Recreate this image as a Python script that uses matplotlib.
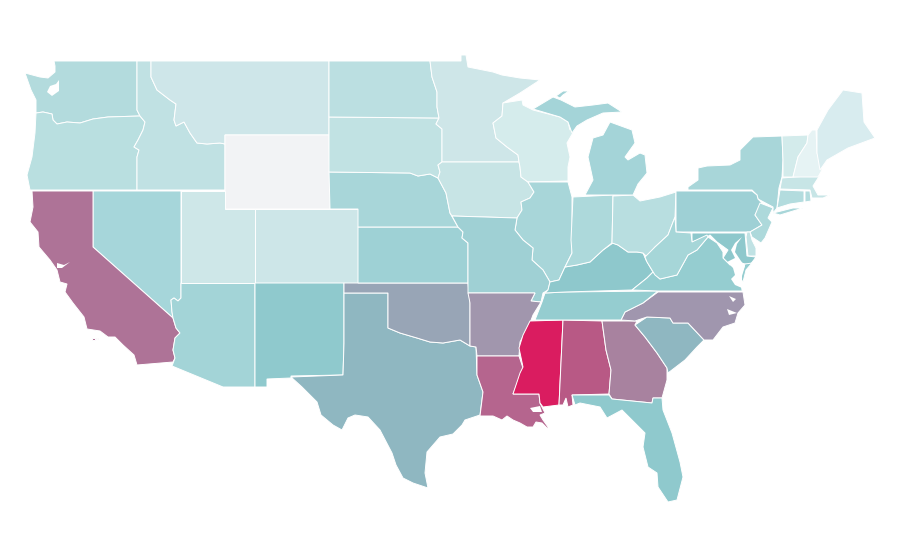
import matplotlib
matplotlib.use("Agg")
import matplotlib.pyplot as plt

# state outlines (x, y in picture pixels)
WA = [(54,61),(137,61),(137,110),(140,116),(108,117),(93,119),(80,123),(67,122),(57,124),(53,120),(52,114),(43,112),(36,113),(36,100),(31,90),(25,73),(40,77),(48,78),(55,72),(55,66)]
OR = [(36,113),(43,112),(52,114),(53,120),(57,124),(67,122),(80,123),(93,119),(108,117),(140,116),(145,122),(143,130),(138,140),(134,147),(139,150),(137,157),(137,190),(30,190),(27,175),(32,157),(35,133)]
ID = [(137,61),(151,61),(151,77),(157,90),(170,100),(176,104),(174,120),(176,126),(184,122),(190,133),(197,143),(207,144),(220,143),(225,144),(225,190),(137,190),(137,157),(139,150),(134,147),(138,140),(143,130),(145,122),(140,116),(137,110)]
MT = [(151,61),(329,61),(329,135),(225,135),(225,144),(220,143),(207,144),(197,143),(190,133),(184,122),(176,126),(174,120),(176,104),(170,100),(157,90),(151,77)]
WY = [(225,135),(329,135),(330,209),(225,209)]
NV = [(93,191),(181,191),(181,298),(178,301),(174,298),(171,300),(172,312),(173,318),(93,247)]
CA = [(32,191),(93,191),(93,247),(173,318),(176,328),(180,333),(175,338),(173,350),(175,358),(173,362),(137,365),(134,355),(123,345),(115,337),(108,337),(100,331),(87,329),(84,317),(73,303),(65,292),(67,284),(60,282),(57,270),(50,260),(39,247),(38,232),(30,222),(33,207)]
CA_ISLAND_1 = [(92,338),(95,338),(95,340),(92,340)]
CA_ISLAND_2 = [(96,338),(98,338),(98,339),(96,339)]
AZ = [(181,283),(255,283),(255,387),(223,387),(172,366),(175,358),(173,350),(175,338),(180,333),(176,328),(173,318),(172,312),(171,300),(174,298),(178,301),(181,298)]
UT = [(181,191),(225,191),(225,209),(255,209),(255,283),(181,283)]
CO = [(255,209),(358,209),(358,283),(255,283)]
NM = [(255,283),(344,283),(344,343),(343,375),(291,376),(291,378),(267,379),(267,387),(255,387)]
TX = [(344,293),(388,293),(388,328),(400,333),(417,338),(430,342),(443,343),(460,340),(470,346),(476,347),(477,375),(483,392),(480,415),(465,420),(462,425),(453,434),(440,437),(427,452),(425,473),(428,488),(413,483),(403,478),(396,465),(392,453),(380,430),(368,417),(355,415),(348,418),(342,430),(333,425),(321,415),(317,402),(302,387),(291,377),(343,375),(344,343)]
OK = [(344,283),(468,283),(470,303),(470,346),(460,340),(443,343),(430,342),(417,338),(400,333),(388,328),(388,293),(344,293)]
KS = [(358,227),(458,227),(463,232),(462,238),(468,243),(468,283),(358,283)]
NE = [(329,172),(410,173),(418,176),(430,174),(438,178),(446,193),(450,213),(458,227),(358,227),(358,209),(330,209)]
SD = [(329,117),(439,118),(436,124),(442,129),(442,162),(438,165),(440,172),(438,178),(430,174),(418,176),(410,173),(329,172)]
ND = [(329,61),(430,61),(432,77),(437,92),(437,107),(439,118),(329,117)]
MN = [(430,61),(461,61),(461,55),(466,55),(468,67),(493,72),(502,75),(520,78),(540,80),(520,93),(503,103),(502,116),(493,123),(496,138),(507,147),(518,155),(519,162),(442,162),(442,129),(436,124),(439,118),(437,107),(437,92),(432,77)]
IA = [(442,162),(519,162),(520,167),(521,177),(528,182),(534,192),(530,198),(521,202),(522,210),(517,218),(452,216),(450,213),(446,193),(438,178),(440,172),(438,165)]
WI = [(503,103),(522,100),(523,105),(533,110),(560,117),(568,122),(570,130),(578,124),(567,143),(570,157),(568,167),(568,181),(528,182),(521,177),(520,167),(519,162),(518,155),(507,147),(496,138),(493,123),(502,116)]
IL = [(528,182),(568,182),(572,197),(572,240),(572,253),(565,267),(559,280),(550,282),(543,270),(532,260),(533,248),(523,240),(515,230),(517,218),(522,210),(521,202),(530,198),(534,192)]
MO = [(452,216),(517,218),(515,230),(523,240),(533,248),(532,260),(543,270),(550,282),(548,290),(543,293),(541,302),(531,301),(535,293),(468,293),(468,243),(462,238),(463,232),(458,227)]
AR = [(468,293),(535,293),(531,301),(541,302),(533,315),(530,323),(520,342),(519,356),(477,356),(476,347),(470,346),(470,303)]
LA = [(477,356),(519,356),(523,368),(513,394),(539,394),(540,403),(545,413),(540,415),(543,420),(548,427),(548,429),(542,423),(536,422),(533,427),(527,427),(520,423),(513,420),(507,416),(502,420),(493,416),(480,416),(483,392),(477,375)]
MS = [(530,321),(563,320),(559,405),(543,407),(540,403),(539,394),(513,394),(520,373),(523,367),(519,348),(523,335)]
AL = [(563,320),(602,321),(606,350),(611,370),(609,394),(572,395),(573,405),(568,407),(566,398),(563,405),(559,405)]
GA = [(602,321),(637,321),(635,325),(645,337),(657,353),(667,368),(667,380),(662,398),(653,398),(652,403),(612,399),(609,394),(611,370),(606,350)]
SC = [(635,325),(647,317),(670,318),(673,323),(688,323),(704,340),(697,347),(685,360),(668,373),(667,368),(657,353),(645,337)]
NC = [(621,320),(625,312),(643,303),(658,292),(743,292),(745,305),(738,313),(735,323),(723,327),(713,340),(704,340),(688,323),(673,323),(670,318),(647,317),(635,321)]
TN = [(535,320),(542,302),(545,293),(565,292),(658,291),(643,303),(625,312),(621,320)]
KY = [(545,293),(548,290),(550,282),(559,280),(565,267),(577,265),(590,262),(603,250),(613,243),(618,245),(628,252),(637,252),(643,253),(646,260),(653,272),(647,278),(632,290),(565,292)]
IN = [(573,197),(613,195),(612,243),(603,250),(590,262),(577,265),(565,267),(572,253),(571,240)]
OH = [(613,196),(633,195),(640,201),(660,197),(676,192),(675,217),(668,235),(655,247),(647,257),(643,253),(637,252),(628,252),(618,245),(612,243)]
MI_LOWER = [(585,195),(593,180),(588,157),(593,138),(603,135),(610,122),(632,130),(635,143),(625,157),(628,160),(640,153),(645,155),(647,173),(638,184),(633,195)]
MI_UPPER = [(533,109),(553,97),(561,100),(575,107),(593,105),(608,103),(622,112),(603,113),(587,120),(577,126),(572,133),(568,122),(560,117)]
MI_KEWEENAW = [(556,96),(563,91),(569,91),(563,95),(560,98)]
NY = [(688,190),(688,187),(698,180),(698,168),(707,166),(730,165),(740,160),(740,150),(753,137),(782,136),(783,160),(782,177),(779,188),(777,208),(773,213),(773,207),(758,199),(757,195),(752,190)]
LONG_ISLAND = [(773,213),(793,208),(803,208),(780,215)]
PA = [(676,191),(688,191),(752,191),(757,195),(758,199),(762,203),(755,215),(762,225),(750,232),(676,232)]
NJ = [(760,203),(773,208),(768,218),(772,222),(765,238),(761,243),(752,237),(750,232),(762,225),(755,215)]
DE = [(747,232),(750,232),(752,240),(756,248),(756,256),(748,256),(746,237)]
MD = [(692,233),(745,233),(747,256),(756,257),(750,265),(745,264),(738,262),(730,265),(723,258),(728,250),(717,242),(710,235),(707,237),(692,242)]
VA = [(632,290),(647,278),(653,272),(660,279),(677,275),(688,255),(697,250),(708,237),(717,243),(723,252),(723,258),(730,265),(738,262),(742,290),(743,291),(658,291)]
VA_SHORE = [(752,263),(746,270),(743,282),(740,278),(745,264)]
WV = [(676,232),(691,233),(692,242),(707,235),(708,237),(697,250),(688,255),(677,275),(660,279),(655,275),(647,262),(645,257),(655,247),(668,235),(675,217)]
CT = [(780,190),(804,191),(804,202),(790,204),(777,208)]
RI = [(805,191),(810,191),(811,201),(805,202)]
MA = [(782,178),(820,175),(813,186),(818,195),(830,195),(823,198),(812,198),(810,190),(780,189)]
VT = [(782,136),(808,135),(807,143),(798,157),(793,177),(783,177),(783,160)]
NH = [(812,130),(816,130),(817,153),(822,170),(818,177),(793,177),(798,157),(807,143),(808,135)]
ME = [(817,130),(828,110),(843,90),(862,93),(864,122),(875,138),(848,148),(827,160),(820,170),(817,153)]
FL = [(572,395),(609,395),(612,399),(652,403),(653,398),(662,398),(663,410),(672,433),(680,462),(683,477),(677,500),(668,502),(658,487),(657,473),(648,467),(643,447),(645,433),(635,423),(622,410),(607,418),(600,407),(580,403),(575,405)]

# inland water cut out of the states
PUGET_SOUND = [(47,92),(50,86),(56,84),(59,80),(59,91),(52,96)]
SF_BAY = [(57,263),(64,265),(70,262),(62,268),(57,268)]
PONTCHARTRAIN = [(530,408),(540,406),(542,412),(533,412)]
CHESAPEAKE = [(742,237),(737,244),(735,252),(741,261),(745,266),(742,276),(742,288),(735,285),(731,279),(735,275),(733,268),(727,262),(735,258),(731,250),(735,243)]
ALBEMARLE = [(729,296),(736,299),(733,302)]
PAMLICO = [(727,309),(737,313),(729,315)]

STATES = [WA, OR, ID, MT, WY, NV, CA, CA_ISLAND_1, CA_ISLAND_2, AZ, UT, CO, NM, TX, OK, KS, NE, SD, ND,
          MN, IA, WI, IL, MO, AR, LA, MS, AL, GA, SC, NC, TN, KY, IN, OH,
          MI_LOWER, MI_UPPER, MI_KEWEENAW, NY, LONG_ISLAND, PA, NJ, DE, MD, VA, VA_SHORE, WV,
          CT, RI, MA, VT, NH, ME, FL]
COLORS = ["#B3DBDD", "#B9DFE0", "#C0E1E3", "#CEE6E9", "#F2F3F5", "#A6D6DA", "#AE7397", "#AE7397", "#AE7397",
          "#A3D4D7", "#CEE7E8", "#CDE6E8", "#8FC9CD", "#8FB7C1", "#98A5B6", "#9ED1D5", "#A8D6D9", "#C1E2E3", "#BBDFE1",
          "#CEE6E8", "#C7E4E5", "#D5ECEC", "#A8D6D9", "#9FD0D4", "#A196AD", "#B5658E", "#DA1C60", "#B85985",
          "#A8829F", "#8FB7C1", "#A096AE", "#95CDD0", "#8EC8CC", "#ADD9DB", "#B8DEE0",
          "#A4D4D8", "#A4D4D8", "#A4D4D8", "#A8D6D9", "#A8D6D9", "#9ED0D5", "#ADD9DB", "#C0E2E4", "#8EC8CC",
          "#95CDD0", "#95CDD0", "#A6D6D8", "#B3DCDE", "#B3DCDE", "#C7E5E6", "#D3EBEB", "#E6F3F4", "#D8ECEF", "#8FC9CD"]
WATER = [PUGET_SOUND, SF_BAY, PONTCHARTRAIN, CHESAPEAKE, ALBEMARLE, PAMLICO]

fig = plt.figure(figsize=(9, 5.6), dpi=100)
ax = fig.add_axes([0, 0, 1, 1])
for outline, color in zip(STATES, COLORS):
    xs, ys = zip(*outline)
    ax.fill(xs, ys, facecolor=color, edgecolor="white", linewidth=0.7)
for outline in WATER:
    xs, ys = zip(*outline)
    ax.fill(xs, ys, facecolor="white", edgecolor="none")

ax.set_xlim(0, 900)
ax.set_ylim(560, 0)
ax.axis("off")
fig.savefig("out.png", dpi=100)
